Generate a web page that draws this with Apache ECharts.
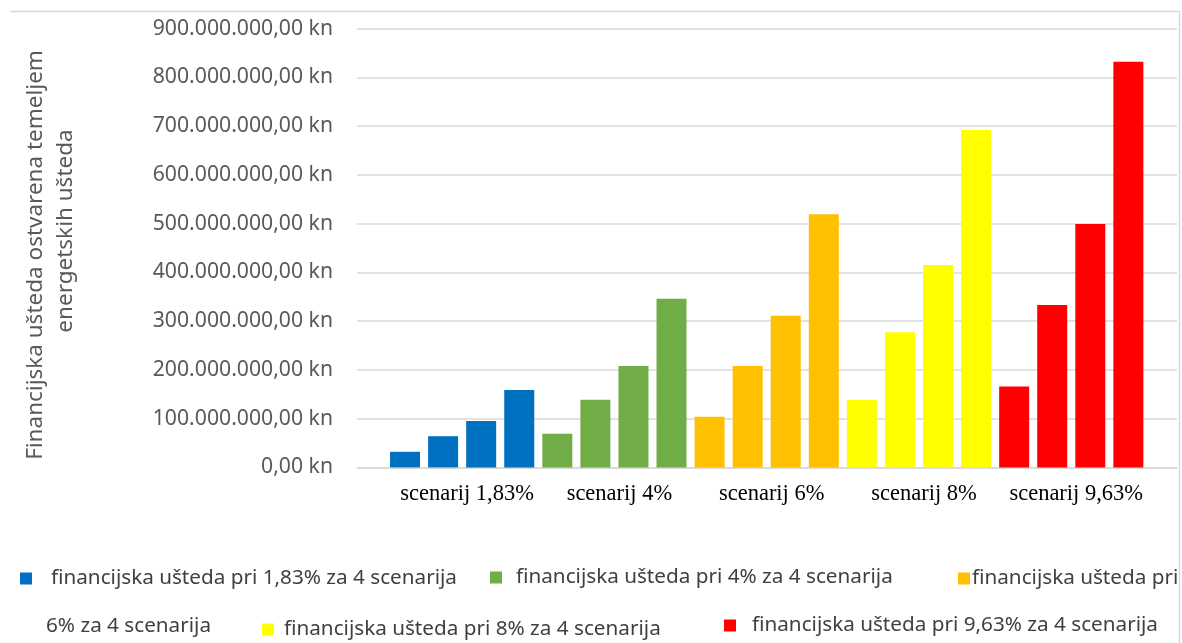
<!DOCTYPE html>
<html>
<head>
<meta charset="utf-8">
<script src="https://cdn.jsdelivr.net/npm/echarts@6/dist/echarts.min.js"></script>
<style>html,body{margin:0;padding:0;background:#fff;}#c{width:1182px;height:643px;}</style>
</head>
<body>
<div id="c"></div>
<script>
// ---- data ----
var categories = ['scenarij 1,83%', 'scenarij 4%', 'scenarij 6%', 'scenarij 8%', 'scenarij 9,63%'];
var seriesNames = [
  'financijska ušteda pri 1,83% za 4 scenarija',
  'financijska ušteda pri 4% za 4 scenarija',
  'financijska ušteda pri 6% za 4 scenarija',
  'financijska ušteda pri 8% za 4 scenarija',
  'financijska ušteda pri 9,63% za 4 scenarija'
];
var values183 = [32000000, 64000000, 95000000, 159000000];
var values4 = [69000000, 139000000, 208000000, 346000000];
var values6 = [104000000, 208000000, 311000000, 519000000];
var values8 = [138000000, 277000000, 415000000, 692000000];
var values963 = [166000000, 333000000, 499000000, 832000000];
var yTicks = [0, 100000000, 200000000, 300000000, 400000000, 500000000, 600000000, 700000000, 800000000, 900000000];
var colors = ['#0070C0', '#70AD47', '#FFC000', '#FFFF00', '#FF0000'];

var allValues = [values183, values4, values6, values8, values963];
var slots = [];
categories.forEach(function (c) { for (var k = 0; k < 4; k++) slots.push(c + ' ' + (k + 1)); });

function fmt(v) {
  var s = String(Math.round(v));
  var out = '';
  while (s.length > 3) { out = '.' + s.slice(-3) + out; s = s.slice(0, -3); }
  return s + out + ',00 kn';
}

var series = allValues.map(function (vals, si) {
  var d = slots.map(function () { return null; });
  vals.forEach(function (v, k) { d[si * 4 + k] = v; });
  return {
    name: seriesNames[si],
    type: 'bar',
    xAxisIndex: 1,
    yAxisIndex: 1,
    barWidth: 30,
    barGap: '-100%',
    itemStyle: { color: colors[si] },
    data: d
  };
});

var legendPos = [
  { left: 20, top: 568, pad: 14 },
  { left: 490, top: 567, pad: 9 },
  { left: 958, top: 568, pad: -3 },
  { left: 262, top: 619, pad: 5 },
  { left: 724, top: 615, pad: 11 }
];
var legends = seriesNames.map(function (n, i) {
  return {
    data: [n],
    left: legendPos[i].left,
    top: legendPos[i].top,
    padding: 0,
    itemWidth: 12,
    itemHeight: 12,
    icon: 'rect',
    selectedMode: false,
    itemGap: 0,
    formatter: i === 2 ? function () { return 'financijska ušteda pri'; } : undefined,
    textStyle: { fontFamily: 'Noto Sans', fontSize: 20.7, color: '#404040', padding: [0, 0, 0, legendPos[i].pad] }
  };
});

var chart = echarts.init(document.getElementById('c'), null, { renderer: 'canvas' });
chart.setOption({
  animation: false,
  backgroundColor: '#fff',
  grid: [
    { left: 357, right: 5, top: 28.6, bottom: 175.6 },
    { left: 386, right: 34.6, top: 28.6, bottom: 175.6 }
  ],
  xAxis: [
    { type: 'category', gridIndex: 0, data: [''], axisLine: { show: true, lineStyle: { color: '#d9d9d9', width: 1.5 } }, axisTick: { show: false }, axisLabel: { show: false } },
    { type: 'category', gridIndex: 1, data: slots, axisLine: { show: false }, axisTick: { show: false }, axisLabel: { show: false } },
    { type: 'category', gridIndex: 1, data: categories, position: 'bottom', axisLine: { show: false }, axisTick: { show: false },
      axisLabel: { interval: 0, fontFamily: 'Liberation Serif', fontSize: 22.5, color: '#000', margin: 15, padding: [0, 0, 0, 10] } }
  ],
  yAxis: [
    { type: 'value', gridIndex: 0, min: yTicks[0], max: yTicks[yTicks.length - 1], interval: 100000000,
      axisLine: { show: false }, axisTick: { show: false },
      splitLine: { lineStyle: { color: '#d9d9d9', width: 1.5 } },
      axisLabel: { formatter: fmt, fontFamily: 'Noto Sans', fontSize: 21.2, color: '#595959', margin: 24 } },
    { type: 'value', gridIndex: 1, min: yTicks[0], max: yTicks[yTicks.length - 1], interval: 100000000,
      show: false, splitLine: { show: false } }
  ],
  legend: legends,
  series: series,
  graphic: [
    { type: 'line', shape: { x1: 10, y1: 11.5, x2: 1180, y2: 11.5 }, style: { stroke: '#d9d9d9', lineWidth: 1.5 } },
    { type: 'line', shape: { x1: 1179.5, y1: 11, x2: 1179.5, y2: 643 }, style: { stroke: '#d9d9d9', lineWidth: 1.5 } },
    { type: 'text', x: 36, y: 255, rotation: Math.PI / 2,
      style: { text: 'Financijska ušteda ostvarena temeljem', fontFamily: 'Noto Sans', fontSize: 22.5, fill: '#595959', textAlign: 'center', textVerticalAlign: 'middle' } },
    { type: 'text', x: 66, y: 231, rotation: Math.PI / 2,
      style: { text: 'energetskih ušteda', fontFamily: 'Noto Sans', fontSize: 22.5, fill: '#595959', textAlign: 'center', textVerticalAlign: 'middle' } },
    { type: 'text', x: 46, y: 626,
      style: { text: '6% za 4 scenarija', fontFamily: 'Noto Sans', fontSize: 20.7, fill: '#404040', textAlign: 'left', textVerticalAlign: 'middle' } }
  ]
});
</script>
</body>
</html>
